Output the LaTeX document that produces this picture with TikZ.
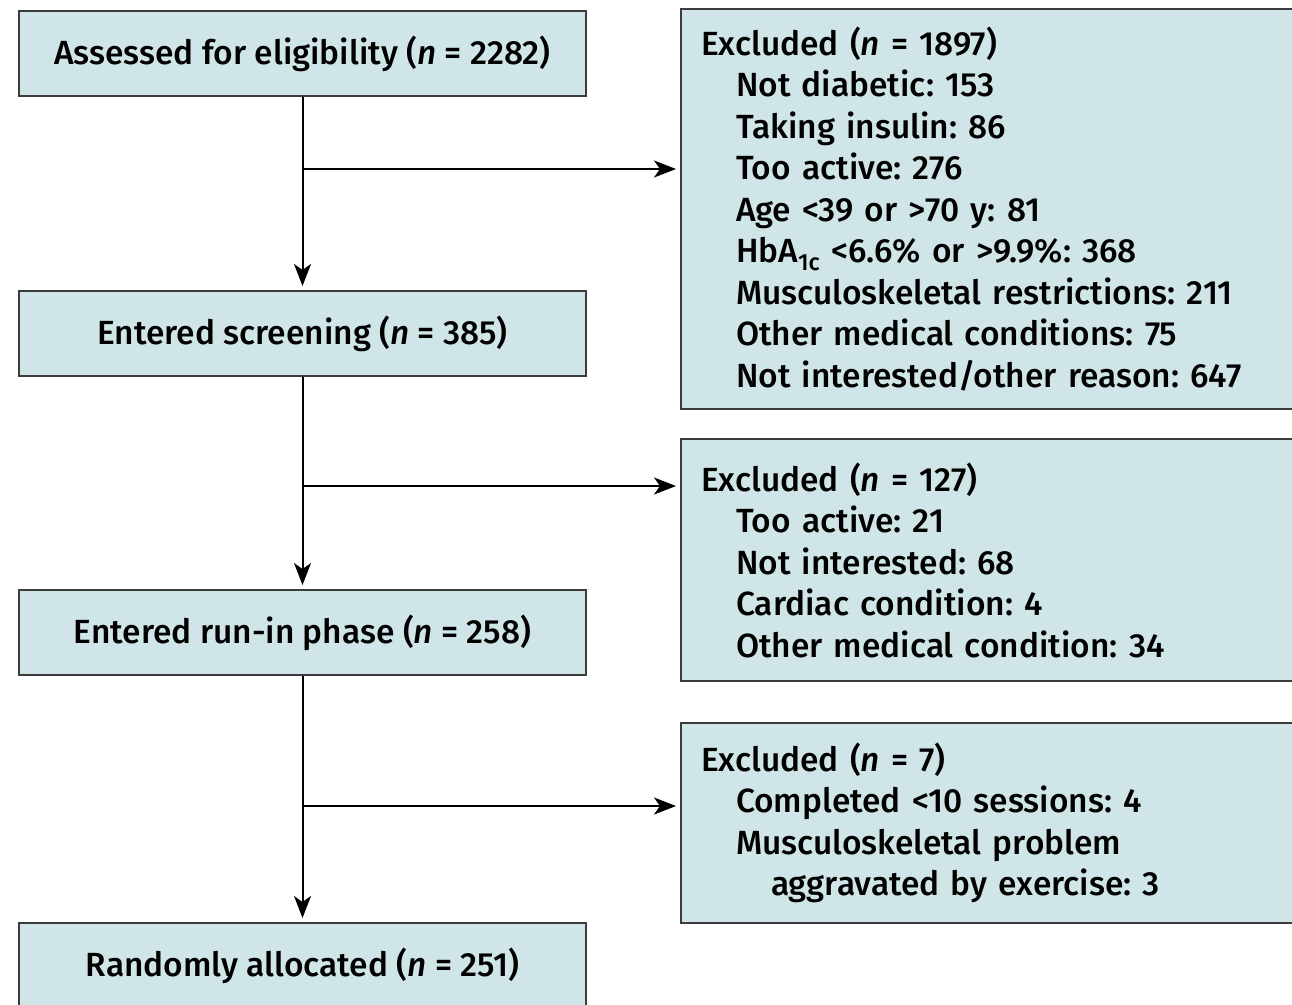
\documentclass[tikz,border=0pt]{standalone}
\usepackage{fontspec}
\setmainfont{Fira Sans Medium}
\usetikzlibrary{arrows.meta}
\definecolor{boxfill}{HTML}{CFE5E7}
\definecolor{boxline}{HTML}{3C3C3C}
\frenchspacing
\begin{document}
\begin{tikzpicture}[x=1pt,y=-1pt,
  every node/.style={font=\fontsize{33.5}{41.5}\selectfont},
  box/.style={draw=boxline, line width=2pt, fill=boxfill, inner sep=0pt},
  mainbox/.style={box, minimum width=567pt, minimum height=85pt, anchor=north west},
  exbox/.style={box, anchor=north west, align=left, text width=600pt, inner xsep=20pt},
  arr/.style={-{Stealth[length=22pt,width=17pt,inset=6pt]}, line width=2pt, shorten >=4pt}]
\useasboundingbox (0,0) rectangle (1292,1004);
\fill[white] (0,0) rectangle (1292,1004);
\node[mainbox] (a) at (18,10) {Assessed for eligibility (\textit{n} = 2282)};
\node[mainbox] (b) at (18,290) {Entered screening (\textit{n} = 385)};
\node[mainbox] (c) at (18,589) {Entered run-in phase (\textit{n} = 258)};
\node[mainbox] (d) at (18,922) {Randomly allocated (\textit{n} = 251)};
\node[exbox, minimum height=400pt] (e1) at (680,8) {Excluded (\textit{n} = 1897)\\
\hspace*{35pt}Not diabetic: 153\\
\hspace*{35pt}Taking insulin: 86\\
\hspace*{35pt}Too active: 276\\
\hspace*{35pt}Age <39 or >70 y: 81\\
\hspace*{35pt}HbA\textsubscript{1c} <6.6\% or >9.9\%: 368\\
\hspace*{35pt}Musculoskeletal restrictions: 211\\
\hspace*{35pt}Other medical conditions: 75\\
\hspace*{35pt}Not interested/other reason: 647};
\node[exbox, minimum height=242pt] (e2) at (680,438) {Excluded (\textit{n} = 127)\\
\hspace*{35pt}Too active: 21\\
\hspace*{35pt}Not interested: 68\\
\hspace*{35pt}Cardiac condition: 4\\
\hspace*{35pt}Other medical condition: 34};
\node[exbox, minimum height=200pt] (e3) at (680,722) {Excluded (\textit{n} = 7)\\
\hspace*{35pt}Completed <10 sessions: 4\\
\hspace*{35pt}Musculoskeletal problem\\
\hspace*{70pt}aggravated by exercise: 3};
\coordinate (j1) at (a.south |- 0,169);
\coordinate (j2) at (b.south |- 0,486);
\coordinate (j3) at (c.south |- 0,806);
\draw[arr] (a.south) -- (b.north);
\draw[arr] (b.south) -- (c.north);
\draw[arr] (c.south) -- (d.north);
\draw[arr] (j1) -- (e1.west |- j1);
\draw[arr] (j2) -- (e2.west |- j2);
\draw[arr] (j3) -- (e3.west |- j3);
\end{tikzpicture}
\end{document}
